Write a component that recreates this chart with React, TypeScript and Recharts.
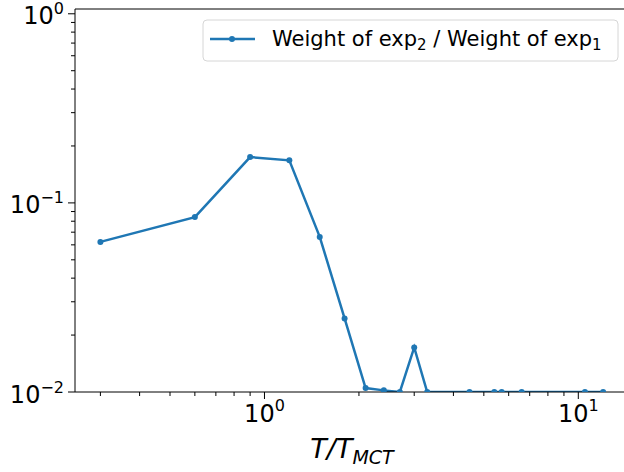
import { Line, LineChart, ReferenceLine, XAxis, YAxis } from "recharts";

const temps = [0.3, 0.6, 0.9, 1.2, 1.5, 1.8, 2.1, 2.4, 2.7, 3.0, 3.3, 4.5, 5.4, 5.7, 6.6, 10.5, 12.0];
const weightRatio = [
  0.0622, 0.0841, 0.1746, 0.1679, 0.0661, 0.0245, 0.0105, 0.0102, 0.01, 0.0172, 0.01, 0.01, 0.01, 0.01,
  0.01, 0.01, 0.01,
];

const xTicks = [0.3, 0.4, 0.5, 0.6, 0.7, 0.8, 0.9, 1, 2, 3, 4, 5, 6, 7, 8, 9, 10];
const xMajor = [1, 10];
const yTicks = [
  0.01, 0.02, 0.03, 0.04, 0.05, 0.06, 0.07, 0.08, 0.09, 0.1, 0.2, 0.3, 0.4, 0.5, 0.6, 0.7, 0.8, 0.9, 1,
];
const yMajor = [0.01, 0.1, 1];
const xDomain = [0.249, 14.4];
const yDomain = [0.01, 1.06];

const data = temps.map((t, i) => ({ t, ratio: weightRatio[i] }));

const BLUE = "#1f77b4";
const FONT = "DejaVu Sans";

function exponent(v: number) {
  const e = Math.round(Math.log10(v));
  return e < 0 ? "\u2212" + Math.abs(e) : String(e);
}

function XTick(props: any) {
  const { x, y, payload } = props;
  const v = payload.value;
  const major = xMajor.includes(v);
  const ay = y - 10;
  return (
    <g>
      <line x1={x} x2={x} y1={ay} y2={ay + (major ? 7 : 4)} stroke="#000" strokeWidth={1} />
      {major && (
        <text x={x} y={ay + 30} textAnchor="middle" fontFamily={FONT} fontSize={24} fill="#000">
          10
          <tspan fontSize={16} dy={-11}>
            {exponent(v)}
          </tspan>
        </text>
      )}
    </g>
  );
}

function YTick(props: any) {
  const { x, y, payload } = props;
  const v = payload.value;
  const major = yMajor.includes(v);
  const ax = x + 10;
  return (
    <g>
      <line x1={ax - (major ? 7 : 4)} x2={ax} y1={y} y2={y} stroke="#000" strokeWidth={1} />
      {major && (
        <text x={ax - 11} y={y + 10.5} textAnchor="end" fontFamily={FONT} fontSize={24} fill="#000">
          10
          <tspan fontSize={16} dy={-10}>
            {exponent(v)}
          </tspan>
        </text>
      )}
    </g>
  );
}

export default function App() {
  return (
    <div
      style={{
        position: "absolute",
        left: 0,
        top: 0,
        width: 624,
        height: 472,
        overflow: "hidden",
        background: "#fff",
      }}
    >
      <LineChart width={640} height={472} data={data} margin={{ top: 9, right: 12, left: 0, bottom: 0 }}>
        <XAxis
          dataKey="t"
          type="number"
          scale="log"
          domain={xDomain}
          allowDataOverflow
          ticks={xTicks}
          interval={0}
          tick={<XTick />}
          tickLine={false}
          tickSize={7}
          tickMargin={3}
          height={80}
          axisLine={{ stroke: "#000", strokeWidth: 1 }}
        />
        <YAxis
          type="number"
          scale="log"
          domain={yDomain}
          allowDataOverflow
          ticks={yTicks}
          interval={0}
          tick={<YTick />}
          tickLine={false}
          tickSize={7}
          tickMargin={3}
          width={75}
          axisLine={{ stroke: "#000", strokeWidth: 1 }}
        />
        <ReferenceLine y={yDomain[1]} stroke="#000" strokeWidth={1} />
        <ReferenceLine x={xDomain[1]} stroke="#000" strokeWidth={1} />
        <Line
          type="linear"
          dataKey="ratio"
          stroke={BLUE}
          strokeWidth={2.5}
          dot={{ r: 3, fill: BLUE, stroke: BLUE, strokeWidth: 0 }}
          isAnimationActive={false}
        />
      </LineChart>
      <svg width={624} height={472} style={{ position: "absolute", left: 0, top: 0, pointerEvents: "none" }}>
        <rect x={203} y={20} width={415} height={41} rx={4} fill="#fff" fillOpacity={0.8} stroke="#d6d6d6" />
        <line x1={210} x2={255} y1={39} y2={39} stroke={BLUE} strokeWidth={2.5} />
        <circle cx={232} cy={39} r={3} fill={BLUE} />
        <text x={272} y={46} fontFamily={FONT} fontSize={21} fill="#000">
          Weight of exp
          <tspan fontSize={15} dy={4}>2</tspan>
          <tspan dy={-4}> / Weight of exp</tspan>
          <tspan fontSize={15} dy={4}>1</tspan>
        </text>
        <text x={352} y={458} textAnchor="middle" fontFamily={FONT} fontSize={27} fontStyle="italic" fill="#000">
          T/T
          <tspan fontSize={19} dy={6}>MCT</tspan>
        </text>
      </svg>
    </div>
  );
}
